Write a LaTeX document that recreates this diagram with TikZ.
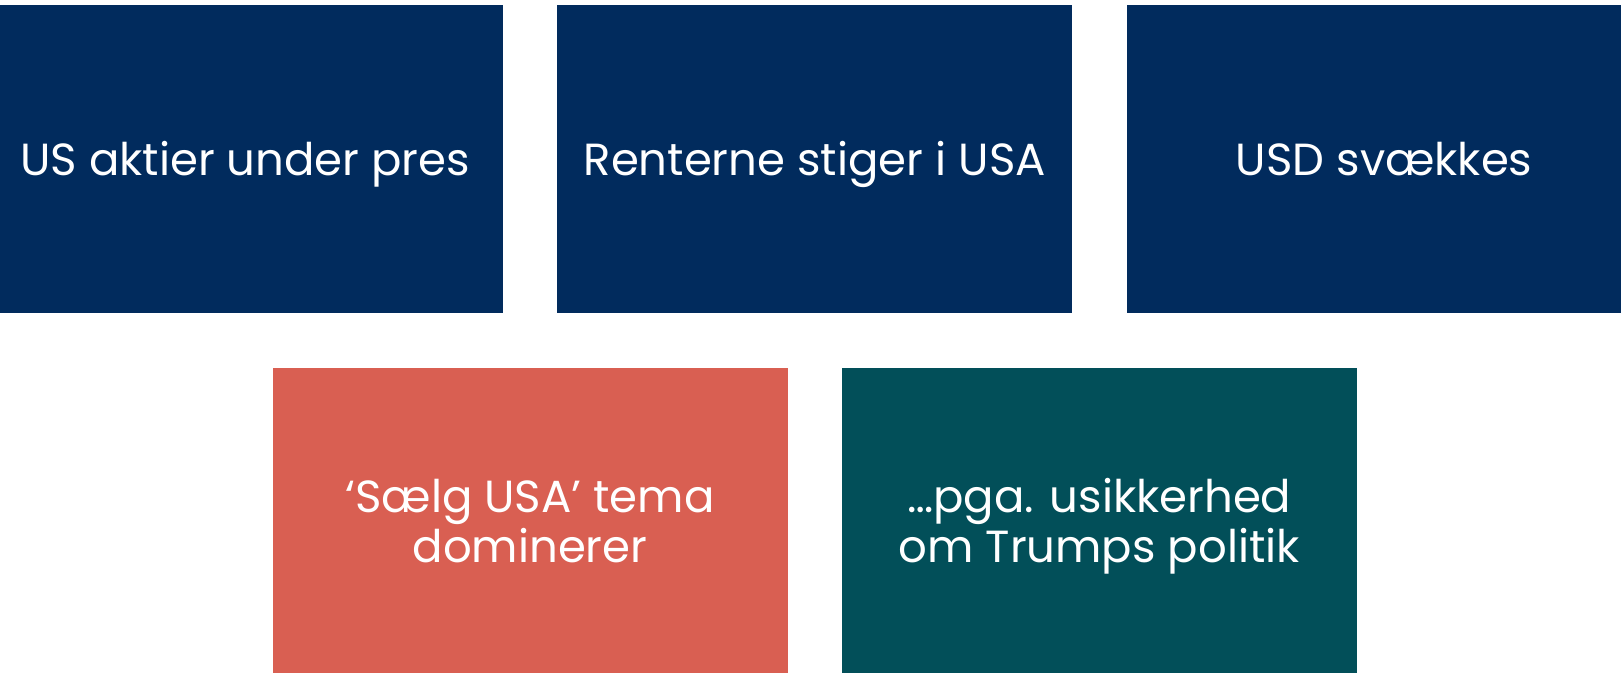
\documentclass[tikz,border=0pt]{standalone}
\usepackage{fontspec}
\setmainfont{Poppins}
\definecolor{navy}{RGB}{1,43,93}
\definecolor{coral}{RGB}{217,95,82}
\definecolor{teal}{RGB}{2,79,89}
\begin{document}
\begin{tikzpicture}[x=1pt,y=-1pt,
  tile/.style={rectangle, inner sep=0pt, outer sep=0pt, minimum width=515pt, minimum height=308pt},
  caption/.style={inner sep=0pt, outer sep=0pt, anchor=base, text=white, align=center,
    font=\fontsize{45}{50.5}\selectfont}]
\useasboundingbox (0,0) rectangle (1621,672);
\clip (0,0) rectangle (1621,672);
\node[tile, fill=navy] (a) at (245.2,159.4) {};
\node[tile, fill=navy] (b) at (814.7,159.4) {};
\node[tile, fill=navy] (c) at (1384.2,159.4) {};
\node[tile, fill=coral] (d) at (530,521.7) {};
\node[tile, fill=teal] (e) at (1099.2,521.7) {};
\node[caption] (at) at (245.2,175) {US aktier under pres};
\node[caption] (bt) at (814.7,175) {Renterne stiger i USA};
\node[caption] (ct) at (1384.2,175) {USD svækkes};
\node[caption] (dt) at (530,562.8) {‘Sælg USA’ tema\\dominerer};
\node[caption] (et) at (1099.2,562.8) {…pga. usikkerhed\\om Trumps politik};
\end{tikzpicture}
\end{document}
